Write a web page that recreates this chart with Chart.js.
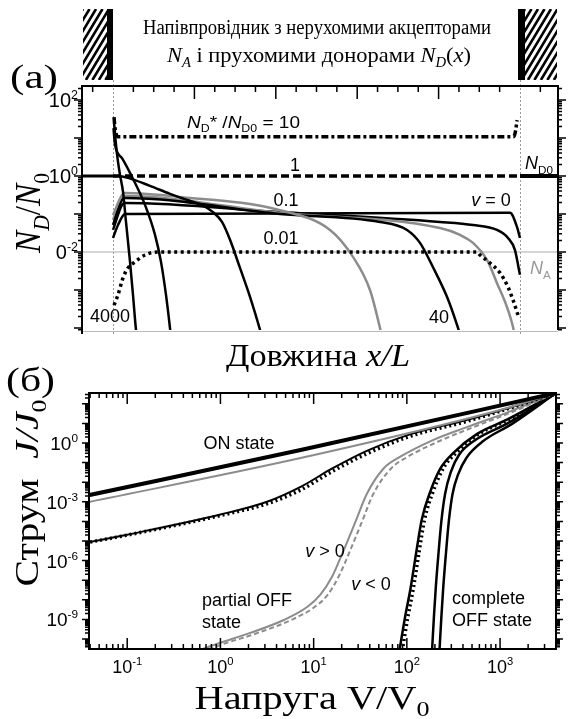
<!DOCTYPE html>
<html lang="uk">
<head>
<meta charset="utf-8">
<title>Профілі донорів і вольт-амперні характеристики</title>
<script src="https://cdn.jsdelivr.net/npm/chart.js@4.4.1/dist/chart.umd.min.js"></script>
<style>
  html, body { margin: 0; padding: 0; background: #fff; }
  #wrap { position: relative; width: 568px; height: 719px; overflow: hidden; background: #fff; }
  canvas { position: absolute; left: 0; }
  #chartA { top: 0; }
  #chartB { top: 355px; }
</style>
</head>
<body>
<div id="wrap">
  <canvas id="chartA" width="568" height="372"></canvas>
  <canvas id="chartB" width="568" height="364"></canvas>
</div>
<script>
// ---------- (a) профілі N_D/N_0 уздовж x/L, значення як log10 ----------
const ndLeftX = [-0.08, 0];
const ndLeftLog = [0, 0];
const ndRightX = [1, 1.1];
const ndRightLog = [0, 0];
const naX = [-0.08, 1.1];
const naLog = [-2, -2];

const ratio10X = [0.0025, 0.005, 0.012, 0.5, 0.984, 0.988, 0.993];
const ratio10Log = [1.55, 1.26, 1.03, 1.03, 1.03, 1.13, 1.47];
const ratio1X = [0, 1];
const ratio1Log = [0, 0];
const ratio001X = [0.0025, 0.0123, 0.0246, 0.0369, 0.0541, 0.0786, 0.1106, 0.8943, 0.9017, 0.9263, 0.9509, 0.9705, 0.9828, 0.9951];
const ratio001Log = [-3.4, -3.13, -2.68, -2.42, -2.26, -2.08, -2.0, -2.0, -2.08, -2.29, -2.55, -2.92, -3.26, -3.66];

const v4000X = [0.0025, 0.0074, 0.0123, 0.0172, 0.0246, 0.0319, 0.0418, 0.0491, 0.0565, 0.06];
const v4000Log = [1.42, 0.82, 0.37, 0.03, -0.42, -1.21, -2.26, -3.13, -4.05, -4.3];
const v2000X = [0.0012, 0.005, 0.0221, 0.0442, 0.0786, 0.1032, 0.1179, 0.1302, 0.14, 0.143];
const v2000Log = [1.26, 0.82, 0.47, 0.03, -0.76, -1.55, -2.26, -3.13, -4.0, -4.3];
const v1000X = [0, 0.0123, 0.0369, 0.0909, 0.14, 0.1818, 0.2138, 0.2457, 0.2678, 0.2875, 0.312, 0.3366, 0.3612, 0.366];
const v1000Log = [0, 0, -0.05, -0.26, -0.47, -0.63, -0.74, -0.95, -1.21, -1.68, -2.42, -3.18, -4.05, -4.25];
const v400X = [0, 0.0221, 0.0295, 0.1646, 0.4103, 0.5332, 0.5897, 0.6314, 0.656, 0.662];
const v400Log = [-1.03, -0.5, -0.45, -0.55, -0.9, -1.42, -2.13, -3.0, -4.0, -4.3];
const v40X = [0, 0.0221, 0.0295, 0.4103, 0.656, 0.7224, 0.7543, 0.7862, 0.8206, 0.8477, 0.856];
const v40Log = [-1.29, -0.63, -0.58, -1.0, -1.21, -1.42, -1.76, -2.4, -3.18, -4.0, -4.3];
const v10X = [0, 0.0221, 0.0295, 0.4103, 0.8034, 0.8526, 0.8845, 0.9189, 0.9435, 0.9681, 0.9828, 0.987];
const v10Log = [-1.16, -0.55, -0.53, -0.97, -1.37, -1.55, -1.76, -2.21, -2.82, -3.45, -3.97, -4.2];
const v4X = [0, 0.0221, 0.0295, 0.4103, 0.8034, 0.8845, 0.9435, 0.9705, 0.9877, 0.9975, 1.0];
const v4Log = [-1.42, -0.76, -0.71, -0.95, -1.21, -1.29, -1.42, -1.63, -1.95, -2.47, -2.6];
const v0X = [0, 0.0123, 0.0295, 0.9754, 0.9926, 1.0];
const v0Log = [-1.63, -1.29, -1.0, -0.97, -1.34, -1.63];

const aTickExp = [2, 0, -2];
const aTickBase = ['10', '10', '0'];

// ---------- (б) струм J/J0 від напруги V/V0, значення як log10 ----------
const onX = [-1.45, 0.86, 3.6];
const onLog = [-2.7, -0.36, 2.55];
const onGrayX = [-1.45, 0.86, 3.0, 3.6];
const onGrayLog = [-3.05, -0.77, 1.68, 2.55];
const lowX = [-1.45, -1, 0, 0.5, 0.86, 1.2, 1.57, 2.04, 2.64, 3.1, 3.6];
const lowLog = [-5.1, -4.68, -3.65, -3.0, -2.24, -1.3, -0.4, 0.45, 1.17, 1.8, 2.55];
const lowDotLog = [-5.1, -4.7, -3.7, -3.1, -2.4, -1.45, -0.55, 0.35, 1.1, 1.77, 2.55];
const partPosX = [-0.3, -0.16, 0.32, 0.68, 0.93, 1.07, 1.2, 1.32, 1.45, 1.57, 1.75, 1.93, 2.28, 2.65, 3.1, 3.6];
const partPosLog = [-10.75, -10.46, -9.69, -9.03, -8.37, -7.75, -6.8, -5.5, -4.0, -2.6, -1.3, -0.7, 0.15, 0.82, 1.6, 2.55];
const partNegX = [-0.2, -0.08, 0.4, 0.76, 1.01, 1.15, 1.27, 1.39, 1.52, 1.64, 1.83, 2.01, 2.35, 2.7, 3.13, 3.6];
const partNegLog = [-10.75, -10.46, -9.69, -9.03, -8.37, -7.75, -6.8, -5.5, -4.0, -2.6, -1.3, -0.7, 0.1, 0.78, 1.58, 2.55];
const off1X = [1.92, 1.98, 2.04, 2.1, 2.16, 2.25, 2.36, 2.5, 2.75, 3.08, 3.6];
const off1DotX = [1.95, 2.01, 2.07, 2.13, 2.19, 2.28, 2.39, 2.53, 2.77, 3.1, 3.6];
const off1Log = [-10.6, -8.9, -7.4, -5.6, -3.9, -2.5, -1.3, -0.5, 0.45, 1.2, 2.55];
const off2aX = [2.27, 2.29, 2.31, 2.34, 2.37, 2.41, 2.47, 2.56, 2.75, 3.08, 3.6];
const off2aLog = [-10.6, -8.9, -7.4, -5.6, -4.0, -2.6, -1.5, -0.6, 0.2, 1.0, 2.55];
const off2bX = [2.35, 2.37, 2.39, 2.42, 2.45, 2.49, 2.55, 2.64, 2.82, 3.12, 3.6];
const off2bLog = [-10.6, -8.9, -7.4, -5.6, -4.0, -2.6, -1.6, -0.75, 0.1, 0.95, 2.55];

const bXTickExp = [-1, 0, 1, 2, 3];
const bYTickExp = [0, -3, -6, -9];

// ---------- helpers ----------
const SERIF = '"Liberation Serif", "DejaVu Serif", serif';
const SANS = '"Liberation Sans", Arial, "DejaVu Sans", sans-serif';
const GRAY = '#8c8c8c';

function fontOf(p, size) {
  return (p.it ? 'italic ' : '') + (size * (p.k || 1)).toFixed(1) + 'px ' + (p.sans ? SANS : SERIF);
}
function richWidth(ctx, parts, size) {
  let w = 0;
  parts.forEach(p => { ctx.font = fontOf(p, size); w += ctx.measureText(p.t).width; });
  return w;
}
// mixed-style text on one baseline; fitW stretches the run along its direction
function drawRich(ctx, parts, x, y, size, align = 'left', fitW = 0) {
  const w = richWidth(ctx, parts, size);
  const sx = fitW ? fitW / w : 1;
  const total = w * sx;
  const x0 = align === 'center' ? x - total / 2 : align === 'right' ? x - total : x;
  ctx.save();
  ctx.translate(x0, y);
  ctx.scale(sx, 1);
  ctx.textAlign = 'left';
  ctx.textBaseline = 'alphabetic';
  let cx = 0;
  parts.forEach(p => {
    ctx.font = fontOf(p, size);
    ctx.fillText(p.t, cx, (p.dy || 0) * size);
    cx += ctx.measureText(p.t).width;
  });
  ctx.restore();
}
const sub = (t, o = {}) => Object.assign({ t, k: 0.65, dy: 0.25 }, o);
const powLabel = (base, exp) => [{ t: base, sans: true }, { t: String(exp), sans: true, k: 0.62, dy: -0.42 }];

function logValues(min, max) {
  const out = [];
  for (let e = Math.floor(Math.log10(min)); e <= Math.ceil(Math.log10(max)); e++) {
    for (let k = 1; k <= 9; k++) {
      const v = k * Math.pow(10, e);
      if (v >= min * 0.999 && v <= max * 1.001) out.push({ v, major: k === 1 });
    }
  }
  return out;
}

function series(label, xs, logs, color, width, dash, logX = false) {
  return {
    label,
    data: xs.map((x, i) => ({ x: logX ? Math.pow(10, x) : x, y: Math.pow(10, logs[i]) })),
    borderColor: color,
    borderWidth: width,
    borderDash: dash || [],
    pointRadius: 0,
    fill: false,
    cubicInterpolationMode: 'monotone',
  };
}

function hatchBlock(ctx, x0, x1, y0, y1) {
  ctx.save();
  ctx.beginPath();
  ctx.rect(x0, y0, x1 - x0, y1 - y0);
  ctx.clip();
  ctx.strokeStyle = '#000';
  ctx.lineWidth = 2.6;
  ctx.beginPath();
  const h = y1 - y0;
  for (let s = x0 - h * 0.6; s < x1 + 4; s += 6.5) {
    ctx.moveTo(s, y1);
    ctx.lineTo(s + h * 0.6, y0);
  }
  ctx.stroke();
  ctx.restore();
}

// ---------- panel (a) drawing ----------
const panelA = {
  id: 'panelA',
  beforeDatasetsDraw(chart) {
    const { ctx, chartArea: a, scales: { x } } = chart;
    ctx.save();
    ctx.strokeStyle = '#9a9a9a';
    ctx.lineWidth = 1;
    ctx.setLineDash([2, 2]);
    [0, 1].forEach(v => {
      const px = Math.round(x.getPixelForValue(v)) + 0.5;
      ctx.beginPath();
      ctx.moveTo(px, 80);
      ctx.lineTo(px, a.bottom + 4);
      ctx.stroke();
    });
    ctx.restore();
  },
  afterDraw(chart) {
    const { ctx, chartArea: a, scales: { x, y } } = chart;
    ctx.save();

    // frame
    ctx.strokeStyle = '#bbb';
    ctx.lineWidth = 1;
    ctx.beginPath();
    ctx.moveTo(a.left, a.bottom + 1.5);
    ctx.lineTo(a.right, a.bottom + 1.5);
    ctx.stroke();
    ctx.strokeStyle = '#000';
    ctx.lineWidth = 2;
    ctx.beginPath();
    ctx.moveTo(a.left, a.bottom + 4);
    ctx.lineTo(a.left, a.top);
    ctx.lineTo(a.right, a.top);
    ctx.lineTo(a.right, a.bottom);
    ctx.stroke();

    // ticks
    ctx.lineWidth = 1.5;
    ctx.beginPath();
    for (let i = -2; i <= 22; i++) {
      if (i === 0 || i === 20) continue;
      const px = x.getPixelForValue(i * 0.05);
      if (px < a.left + 2 || px > a.right - 2) continue;
      const len = i % 4 === 0 ? 13 : 6;
      ctx.moveTo(px, a.top);
      ctx.lineTo(px, a.top + len);
    }
    logValues(y.min, y.max).forEach(t => {
      const py = y.getPixelForValue(t.v);
      const len = t.major ? 8 : 4;
      ctx.moveTo(a.left, py); ctx.lineTo(a.left - len, py);
      ctx.moveTo(a.right, py); ctx.lineTo(a.right + len, py);
    });
    ctx.stroke();

    // tick labels
    ctx.fillStyle = '#000';
    aTickExp.forEach((e, i) => {
      const py = y.getPixelForValue(Math.pow(10, e));
      drawRich(ctx, powLabel(aTickBase[i], e), a.left - 4, py + 7, 20, 'right');
    });

    // curve labels
    drawRich(ctx, [{ t: 'N', it: true, sans: true }, sub('D', { sans: true }), { t: '* /', sans: true },
      { t: 'N', it: true, sans: true }, sub('D0', { sans: true }), { t: ' = 10', sans: true }], 187, 128, 16, 'left', 113);
    drawRich(ctx, [{ t: '1', sans: true }], 295, 171, 18, 'center');
    drawRich(ctx, [{ t: '0.1', sans: true }], 286, 206, 18, 'center');
    drawRich(ctx, [{ t: '0.01', sans: true }], 281, 244, 18, 'center');
    drawRich(ctx, [{ t: 'v', it: true, sans: true }, { t: ' = 0', sans: true }], 491, 206, 18, 'center');
    drawRich(ctx, [{ t: 'N', it: true, sans: true }, sub('D0', { sans: true })], 525, 169, 18, 'left');
    drawRich(ctx, [{ t: '4000', sans: true }], 110, 322, 18, 'center');
    drawRich(ctx, [{ t: '40', sans: true }], 439, 323, 18, 'center');
    ctx.fillStyle = '#999';
    drawRich(ctx, [{ t: 'N', it: true, sans: true }, sub('A', { sans: true })], 530, 274, 18, 'left');

    // titles
    ctx.fillStyle = '#000';
    drawRich(ctx, [{ t: 'Довжина ' }, { t: 'x/L', it: true }], 318, 366, 32, 'center', 184);
    ctx.save();
    ctx.translate(40, 213);
    ctx.rotate(-Math.PI / 2);
    drawRich(ctx, [{ t: 'N', it: true }, sub('D', { it: true }), { t: '/' }, { t: 'N', it: true }, sub('0')], 0, 0, 35, 'center', 80);
    ctx.restore();
    drawRich(ctx, [{ t: '(a)' }], 10, 88, 33, 'left', 48);

    // header with electrodes
    drawRich(ctx, [{ t: 'Напівпровідник з нерухомими акцепторами' }], 317, 34, 20, 'center', 348);
    drawRich(ctx, [{ t: 'N', it: true }, sub('A', { it: true }), { t: ' і прухомими донорами ' },
      { t: 'N', it: true }, sub('D', { it: true }), { t: '(' }, { t: 'x', it: true }, { t: ')' }], 319, 62, 21, 'center', 304);
    hatchBlock(ctx, 83, 107, 9, 80);
    ctx.fillRect(107, 9, 6, 71);
    ctx.fillRect(518, 9, 7, 71);
    hatchBlock(ctx, 525, 557, 9, 80);

    ctx.restore();
  },
};

// ---------- panel (б) drawing ----------
const panelB = {
  id: 'panelB',
  afterDraw(chart) {
    const { ctx, chartArea: a, scales: { x, y } } = chart;
    ctx.save();
    ctx.strokeStyle = '#000';
    ctx.lineWidth = 2;
    ctx.strokeRect(a.left, a.top, a.right - a.left, a.bottom - a.top);

    ctx.lineWidth = 1.5;
    ctx.beginPath();
    logValues(x.min, x.max).forEach(t => {
      const px = x.getPixelForValue(t.v);
      const len = t.major ? 11 : 5;
      ctx.moveTo(px, a.top); ctx.lineTo(px, a.top + len);
      ctx.moveTo(px, a.bottom); ctx.lineTo(px, a.bottom - len);
    });
    logValues(y.min, y.max).forEach(t => {
      const py = y.getPixelForValue(t.v);
      const len = t.major ? 7 : 4;
      ctx.moveTo(a.left, py); ctx.lineTo(a.left - len, py);
      ctx.moveTo(a.right, py); ctx.lineTo(a.right + len, py);
    });
    ctx.stroke();

    ctx.fillStyle = '#000';
    bXTickExp.forEach(e => {
      drawRich(ctx, powLabel('10', e), x.getPixelForValue(Math.pow(10, e)), a.bottom + 24, 18, 'center');
    });
    bYTickExp.forEach(e => {
      drawRich(ctx, powLabel('10', e), a.left - 11, y.getPixelForValue(Math.pow(10, e)) + 7, 19, 'right');
    });

    // annotations
    drawRich(ctx, [{ t: 'ON state', sans: true }], 239, 94, 18, 'center');
    drawRich(ctx, [{ t: 'v', it: true, sans: true }, { t: ' > 0', sans: true }], 325, 202, 18, 'center');
    drawRich(ctx, [{ t: 'v', it: true, sans: true }, { t: ' < 0', sans: true }], 371, 235, 18, 'center');
    drawRich(ctx, [{ t: 'partial OFF', sans: true }], 202, 251, 18, 'left');
    drawRich(ctx, [{ t: 'state', sans: true }], 202, 273, 18, 'left');
    drawRich(ctx, [{ t: 'complete', sans: true }], 452, 249, 18, 'left');
    drawRich(ctx, [{ t: 'OFF state', sans: true }], 452, 271, 18, 'left');

    // titles
    drawRich(ctx, [{ t: '(б)' }], 6, 36, 33, 'left', 49);
    drawRich(ctx, [{ t: 'Напруга V/V' }, sub('0', { dy: 0.2 })], 312, 354, 33, 'center', 235);
    ctx.save();
    ctx.translate(38, 138);
    ctx.rotate(-Math.PI / 2);
    drawRich(ctx, [{ t: 'Струм  ' }, { t: 'J/J', it: true }, sub('0')], 0, 0, 33, 'center', 187);
    ctx.restore();
    ctx.restore();
  },
};

const commonOptions = {
  responsive: false,
  animation: false,
  events: [],
  plugins: { legend: { display: false }, tooltip: { enabled: false } },
};

new Chart(document.getElementById('chartA'), {
  type: 'line',
  data: {
    datasets: [
      series('N_D0 (ліворуч)', ndLeftX, ndLeftLog, '#000', 3),
      series('N_D0 (праворуч)', ndRightX, ndRightLog, '#000', 4),
      series('N_D*/N_D0 = 10', ratio10X, ratio10Log, '#000', 3.5, [7, 3, 3, 3]),
      series('N_D*/N_D0 = 1', ratio1X, ratio1Log, '#000', 3.5, [8, 4]),
      series('N_D*/N_D0 = 0.01', ratio001X, ratio001Log, '#000', 3.5, [3, 3.5]),
      series('v = 4000', v4000X, v4000Log, '#000', 2.5),
      series('v = 2000', v2000X, v2000Log, '#000', 2.5),
      series('v = 1000', v1000X, v1000Log, '#000', 2.5),
      series('v = 400', v400X, v400Log, GRAY, 2.5),
      series('v = 40', v40X, v40Log, '#000', 2.5),
      series('v = 10', v10X, v10Log, GRAY, 2.5),
      series('v = 4', v4X, v4Log, '#000', 2.5),
      series('v = 0', v0X, v0Log, '#000', 2.5),
      series('N_A', naX, naLog, '#aaa', 1),
    ],
  },
  options: Object.assign({}, commonOptions, {
    layout: { padding: { left: 82, right: 10, top: 86, bottom: 42 } },
    scales: {
      x: { type: 'linear', display: false, min: -0.0762, max: 1.0934 },
      y: { type: 'logarithmic', display: false, min: Math.pow(10, -4.053), max: Math.pow(10, 2.368) },
    },
  }),
  plugins: [panelA],
});

new Chart(document.getElementById('chartB'), {
  type: 'line',
  data: {
    datasets: [
      series('ON state', onX, onLog, '#000', 4, null, true),
      series('ON state, v > 0', onGrayX, onGrayLog, GRAY, 2, null, true),
      series('partial ON, v < 0', lowX, lowDotLog, '#000', 3.5, [2, 3], true),
      series('partial ON, v > 0', lowX, lowLog, '#000', 2, null, true),
      series('partial OFF, v > 0', partPosX, partPosLog, GRAY, 2, null, true),
      series('partial OFF, v < 0', partNegX, partNegLog, GRAY, 2, [5, 3], true),
      series('complete OFF 1, v < 0', off1DotX, off1Log, '#000', 3.5, [2, 3], true),
      series('complete OFF 1, v > 0', off1X, off1Log, '#000', 2.5, null, true),
      series('complete OFF 2, v > 0', off2aX, off2aLog, '#000', 2.5, null, true),
      series('complete OFF 2, v < 0', off2bX, off2bLog, '#000', 2.5, null, true),
    ],
  },
  options: Object.assign({}, commonOptions, {
    layout: { padding: { left: 89, right: 12, top: 38, bottom: 70 } },
    scales: {
      x: { type: 'logarithmic', display: false, min: Math.pow(10, -1.41), max: Math.pow(10, 3.6) },
      y: { type: 'logarithmic', display: false, min: Math.pow(10, -10.51), max: Math.pow(10, 2.55) },
    },
  }),
  plugins: [panelB],
});
</script>
</body>
</html>
